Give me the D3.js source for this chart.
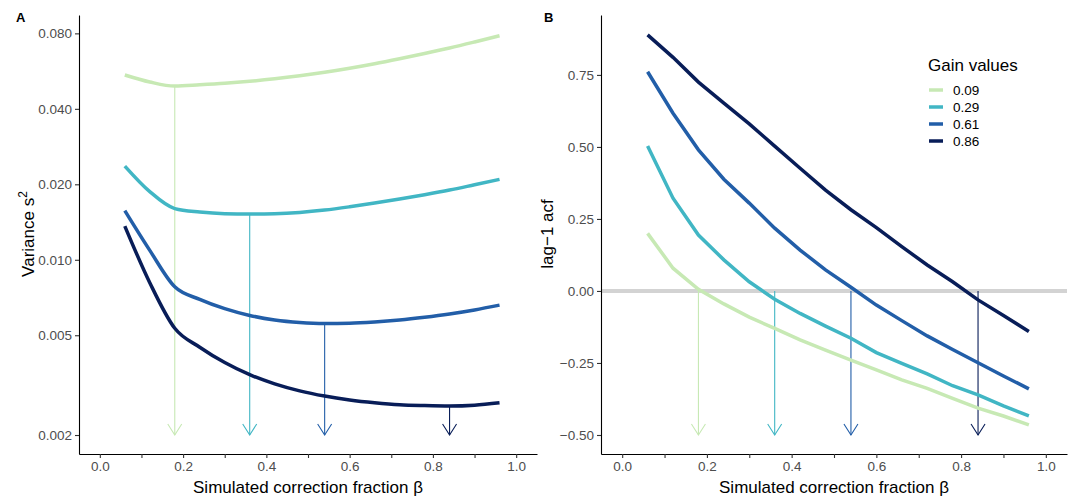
<!DOCTYPE html>
<html>
<head>
<meta charset="utf-8">
<script src="https://cdnjs.cloudflare.com/ajax/libs/d3/7.8.5/d3.min.js"></script>
<style>
  body { margin: 0; background: #fff; }
  svg text { font-family: "Liberation Sans", Arial, sans-serif; }
</style>
</head>
<body>
<div id="chart"></div>
<script>
`use strict`;

// simulated correction fraction grid
const BETA = [0.06, 0.12, 0.18, 0.24, 0.30, 0.36, 0.42, 0.48, 0.54, 0.60, 0.66, 0.72, 0.78, 0.84, 0.90, 0.96];

const GAINS = [`0.09`, `0.29`, `0.61`, `0.86`];

// variance s^2 (panel A)
const VAR_009 = [0.0546, 0.0512, 0.0493, 0.04986, 0.05055, 0.05149, 0.05269, 0.05417, 0.05594, 0.05804, 0.0605, 0.06335, 0.06649, 0.06995, 0.07393, 0.07831];
const VAR_029 = [0.02365, 0.0187, 0.0160, 0.0155, 0.01526, 0.01521, 0.01526, 0.01545, 0.01579, 0.01627, 0.01683, 0.01746, 0.01817, 0.01897, 0.01992, 0.02093];
const VAR_061 = [0.0157, 0.0109, 0.0078, 0.006953, 0.006384, 0.005998, 0.005755, 0.005624, 0.005572, 0.005585, 0.00565, 0.005755, 0.005903, 0.006083, 0.00631, 0.006593];
const VAR_086 = [0.01363, 0.0081, 0.00533, 0.00448, 0.00389, 0.00348, 0.0032, 0.0030, 0.00286, 0.00276, 0.00269, 0.00264, 0.00262, 0.00261, 0.00263, 0.00269];

// lag-1 autocorrelation (panel B)
const ACF_009 = [0.200, 0.079, 0.006, -0.045, -0.091, -0.130, -0.170, -0.205, -0.240, -0.274, -0.309, -0.338, -0.373, -0.407, -0.434, -0.465];
const ACF_029 = [0.503, 0.322, 0.194, 0.108, 0.032, -0.029, -0.078, -0.122, -0.164, -0.214, -0.251, -0.288, -0.329, -0.361, -0.399, -0.434];
const ACF_061 = [0.761, 0.617, 0.490, 0.388, 0.305, 0.218, 0.142, 0.073, 0.013, -0.049, -0.103, -0.156, -0.203, -0.249, -0.295, -0.340];
const ACF_086 = [0.889, 0.811, 0.725, 0.652, 0.580, 0.503, 0.426, 0.350, 0.282, 0.220, 0.154, 0.090, 0.032, -0.031, -0.085, -0.141];

// beta at which each gain hits the optimum
const OPT_BETA = [0.18, 0.36, 0.54, 0.84];

const X_TICKS = [0, 0.1, 0.2, 0.3, 0.4, 0.5, 0.6, 0.7, 0.8, 0.9, 1.0];
const Y_TICKS_A = [0.002, 0.005, 0.010, 0.020, 0.040, 0.080];
const Y_TICKS_B = [-0.50, -0.25, 0.00, 0.25, 0.50, 0.75];

const PALETTE = [`#c7e9b4`, `#41b6c4`, `#225ea8`, `#081d58`];

(function () {

  const W = 1070, H = 498;

  let svg = d3.select(`#chart`).append(`svg`)
    .attr(`width`, W)
    .attr(`height`, H);

  let VAR = [VAR_009, VAR_029, VAR_061, VAR_086];
  let ACF = [ACF_009, ACF_029, ACF_061, ACF_086];

  let xA = d3.scaleLinear().domain([-0.05, 1.05]).range([79, 537]);
  let yA = d3.scaleLog().domain([0.00168, 0.0947]).range([454, 15]);

  let xB = d3.scaleLinear().domain([-0.05, 1.05]).range([601, 1067]);
  let yB = d3.scaleLinear().domain([-0.566, 0.958]).range([454, 15]);

  let styleAxis = g => {
    g.select(`.domain`).attr(`stroke`, `#000`).attr(`stroke-width`, 1.1);
    g.selectAll(`.tick line`).attr(`stroke`, `#333`).attr(`stroke-width`, 1.1);
    g.selectAll(`.tick text`)
      .attr(`fill`, `#4d4d4d`)
      .style(`font-size`, `13.5px`)
      .style(`font-family`, `"Liberation Sans", Arial, sans-serif`);
  }

  let xFmt = d => Math.round(d * 10) % 2 === 0 ? d3.format(`.1f`)(d) : ``;

  let drawArrow = (g, x, y0, y1, colour) => {

    g.append(`line`)
      .attr(`x1`, x).attr(`x2`, x)
      .attr(`y1`, y0).attr(`y2`, y1)
      .attr(`stroke`, colour)
      .attr(`stroke-width`, 1.1);

    g.append(`path`)
      .attr(`d`, `M${x - 7},${y1 - 11}L${x},${y1}L${x + 7},${y1 - 11}`)
      .attr(`fill`, `none`)
      .attr(`stroke`, colour)
      .attr(`stroke-width`, 1.1);
  }

  /* panel A */

  let pA = svg.append(`g`);

  pA.append(`g`)
    .attr(`transform`, `translate(0,454)`)
    .call(d3.axisBottom(xA).tickValues(X_TICKS).tickFormat(xFmt).tickSize(4).tickSizeOuter(0).tickPadding(3))
    .call(styleAxis);

  pA.append(`g`)
    .attr(`transform`, `translate(79,0)`)
    .call(d3.axisLeft(yA).tickValues(Y_TICKS_A).tickFormat(d3.format(`.3f`)).tickSize(4).tickSizeOuter(0).tickPadding(3))
    .call(styleAxis);

  let lineA = (xs, ys) => d3.line()
    .x((d, i) => xA(xs[i]))
    .y(d => yA(d))
    .curve(d3.curveMonotoneX)(ys);

  VAR.forEach((series, k) => {
    let i = BETA.findIndex(b => Math.abs(b - OPT_BETA[k]) < 1e-9);
    drawArrow(pA, xA(OPT_BETA[k]), yA(series[i]), yA(Y_TICKS_A[0]), PALETTE[k]);
  });

  VAR.forEach((series, k) => {
    pA.append(`path`)
      .attr(`d`, lineA(BETA, series))
      .attr(`fill`, `none`)
      .attr(`stroke`, PALETTE[k])
      .attr(`stroke-width`, 3.5);
  });

  pA.append(`text`)
    .attr(`x`, 16).attr(`y`, 22)
    .style(`font-size`, `13px`)
    .style(`font-weight`, `bold`)
    .text(`A`);

  let tA = pA.append(`text`)
    .attr(`transform`, `translate(34,234) rotate(-90)`)
    .attr(`text-anchor`, `middle`)
    .style(`font-size`, `17px`)
    .attr(`fill`, `#000`);

  tA.append(`tspan`).text(`Variance s`);
  tA.append(`tspan`).attr(`dy`, -7).style(`font-size`, `12px`).text(`2`);

  pA.append(`text`)
    .attr(`x`, (79 + 537) / 2).attr(`y`, 493)
    .attr(`text-anchor`, `middle`)
    .style(`font-size`, `17px`)
    .text(`Simulated correction fraction β`);

  /* panel B */

  let pB = svg.append(`g`);

  pB.append(`line`)
    .attr(`x1`, 601).attr(`x2`, 1067)
    .attr(`y1`, yB(0)).attr(`y2`, yB(0))
    .attr(`stroke`, `#d3d3d3`)
    .attr(`stroke-width`, 4);

  pB.append(`g`)
    .attr(`transform`, `translate(0,454)`)
    .call(d3.axisBottom(xB).tickValues(X_TICKS).tickFormat(xFmt).tickSize(4).tickSizeOuter(0).tickPadding(3))
    .call(styleAxis);

  pB.append(`g`)
    .attr(`transform`, `translate(601,0)`)
    .call(d3.axisLeft(yB).tickValues(Y_TICKS_B).tickFormat(d3.format(`.2f`)).tickSize(4).tickSizeOuter(0).tickPadding(3))
    .call(styleAxis);

  let lineB = (xs, ys) => d3.line()
    .x((d, i) => xB(xs[i]))
    .y(d => yB(d))(ys);

  ACF.forEach((series, k) => {
    drawArrow(pB, xB(OPT_BETA[k]), yB(0), yB(Y_TICKS_B[0]), PALETTE[k]);
  });

  ACF.forEach((series, k) => {
    pB.append(`path`)
      .attr(`d`, lineB(BETA, series))
      .attr(`fill`, `none`)
      .attr(`stroke`, PALETTE[k])
      .attr(`stroke-width`, 3.5);
  });

  pB.append(`text`)
    .attr(`x`, 544).attr(`y`, 22)
    .style(`font-size`, `13px`)
    .style(`font-weight`, `bold`)
    .text(`B`);

  pB.append(`text`)
    .attr(`transform`, `translate(553,234) rotate(-90)`)
    .attr(`text-anchor`, `middle`)
    .style(`font-size`, `17px`)
    .text(`lag\u22121 acf`);

  pB.append(`text`)
    .attr(`x`, (601 + 1067) / 2).attr(`y`, 493)
    .attr(`text-anchor`, `middle`)
    .style(`font-size`, `17px`)
    .text(`Simulated correction fraction β`);

  /* legend */

  let lg = svg.append(`g`).attr(`transform`, `translate(928,0)`);

  lg.append(`text`)
    .attr(`x`, 0).attr(`y`, 71)
    .style(`font-size`, `17px`)
    .text(`Gain values`);

  GAINS.forEach((gain, k) => {

    let y = 90 + k * 17;

    lg.append(`line`)
      .attr(`x1`, 1).attr(`x2`, 15)
      .attr(`y1`, y).attr(`y2`, y)
      .attr(`stroke`, PALETTE[k])
      .attr(`stroke-width`, 3.5);

    lg.append(`text`)
      .attr(`x`, 25).attr(`y`, y)
      .attr(`dy`, `0.36em`)
      .style(`font-size`, `13.5px`)
      .text(gain);
  });

})();
</script>
</body>
</html>
